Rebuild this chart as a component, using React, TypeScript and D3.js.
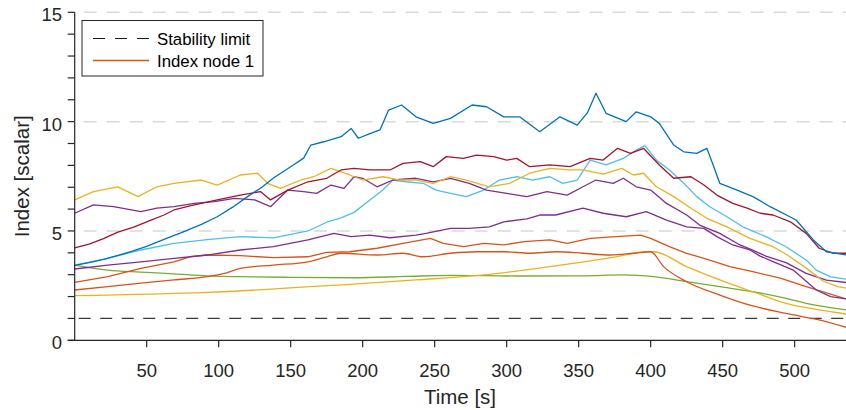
import React from "react";
import * as d3 from "d3";

// ---- data (time [s], index) ----
const blueSeries: [number, number][] = [[0,3.43],[10,3.55],[20,3.7],[30,3.88],[40,4.08],[50,4.3],[62,4.62],[75,4.95],[88,5.3],[99,5.65],[110,6.1],[120,6.57],[130,7.0],[138,7.42],[150,7.94],[159,8.33],[164,8.93],[173,9.08],[185,9.31],[192,9.69],[197,9.24],[205,9.45],[212,9.62],[218,10.53],[227,10.76],[237,10.22],[249,9.92],[261,10.15],[276,10.76],[286,10.68],[298,10.22],[309,10.22],[323,9.54],[337,10.22],[349,9.84],[356,10.4],[362,11.3],[369,10.38],[383,10.0],[390,10.45],[400,10.22],[406,9.92],[416,8.93],[423,8.62],[432,8.55],[439,8.78],[443,8.09],[448,7.18],[460,6.87],[471,6.57],[483,6.11],[501,5.5],[513,4.59],[522,4.05],[536,3.9]];
const darkRedSeries: [number, number][] = [[0,4.23],[10,4.4],[20,4.65],[30,4.95],[41,5.18],[53,5.5],[62,5.73],[69,5.96],[80,6.15],[88,6.26],[99,6.42],[115,6.64],[129,6.8],[136,6.42],[148,6.87],[162,7.25],[175,7.41],[185,7.79],[194,7.86],[205,7.79],[219,7.79],[228,8.09],[240,8.17],[249,7.94],[258,8.4],[270,8.32],[279,8.47],[291,8.4],[300,8.24],[307,8.32],[316,7.94],[330,8.02],[344,7.94],[358,8.32],[367,8.24],[377,8.78],[386,8.55],[395,8.78],[406,8.02],[416,7.41],[428,7.48],[437,7.1],[446,6.64],[457,6.26],[467,6.04],[476,5.81],[485,5.73],[497,5.42],[508,4.89],[517,4.21],[527,3.98],[536,3.98]];
const yellowSeries: [number, number][] = [[0,6.42],[13,6.8],[30,7.02],[44,6.57],[57,7.02],[69,7.18],[88,7.33],[99,7.1],[115,7.56],[127,7.64],[134,7.18],[143,6.95],[157,7.33],[166,7.48],[178,7.86],[191,7.56],[200,7.33],[214,7.48],[226,7.33],[237,7.33],[249,7.18],[261,7.48],[272,7.33],[288,7.02],[302,7.18],[316,7.64],[330,7.86],[344,7.79],[353,7.79],[367,7.6],[380,7.86],[388,7.56],[395,7.64],[404,7.02],[416,6.57],[428,6.04],[439,5.58],[453,5.19],[469,4.66],[485,4.28],[495,3.9],[508,3.3],[520,2.7],[530,2.45],[536,2.38]];
const purpleHighSeries: [number, number][] = [[0,5.81],[13,6.19],[27,6.11],[46,5.88],[57,6.04],[69,6.11],[83,6.26],[97,6.34],[111,6.49],[125,6.42],[136,6.11],[148,6.87],[159,6.8],[168,6.72],[178,7.1],[187,6.95],[194,7.48],[200,7.41],[210,7.02],[221,7.33],[237,7.41],[249,7.25],[261,7.41],[274,7.18],[286,6.87],[300,6.72],[314,6.57],[328,6.8],[342,6.64],[353,7.02],[362,7.33],[374,7.18],[381,7.41],[390,7.02],[400,6.87],[411,6.26],[425,5.73],[434,5.27],[448,4.89],[462,4.36],[470,4.15],[480,3.85],[494,3.55],[508,3.06],[522,2.75],[536,2.64]];
const lightBlueSeries: [number, number][] = [[0,3.44],[23,3.75],[46,4.13],[69,4.43],[92,4.6],[115,4.74],[138,4.68],[162,5.0],[175,5.4],[185,5.6],[194,5.85],[205,6.42],[214,6.87],[221,7.33],[230,7.25],[242,7.18],[251,6.87],[261,6.72],[272,6.57],[284,6.87],[295,7.33],[307,7.48],[318,7.33],[330,7.48],[339,7.18],[349,7.33],[358,8.24],[369,8.02],[381,8.32],[390,8.7],[396,8.9],[404,8.24],[413,7.79],[423,7.18],[432,6.57],[441,6.11],[453,5.65],[464,5.19],[480,4.74],[494,4.28],[508,3.67],[515,3.21],[525,2.9],[536,2.79]];
const purpleMidSeries: [number, number][] = [[0,3.26],[23,3.44],[46,3.59],[69,3.75],[92,3.9],[115,4.13],[138,4.28],[162,4.59],[180,4.89],[192,4.74],[205,4.81],[219,4.69],[237,4.81],[244,4.89],[261,5.12],[274,5.12],[288,5.19],[298,5.42],[314,5.55],[323,5.73],[334,5.73],[353,6.04],[367,5.81],[383,5.65],[397,5.88],[411,5.5],[425,5.19],[437,5.12],[446,4.74],[457,4.36],[469,4.13],[476,3.85],[485,3.6],[499,3.21],[515,2.3],[525,2.0],[536,1.89]];
const orangeUpperSeries: [number, number][] = [[0,2.65],[23,2.91],[46,3.29],[69,3.59],[80,3.82],[92,3.9],[115,3.87],[138,3.78],[162,3.82],[175,4.02],[191,4.05],[210,4.21],[228,4.43],[247,4.66],[256,4.43],[270,4.28],[284,4.43],[298,4.36],[312,4.51],[330,4.59],[342,4.43],[358,4.66],[376,4.74],[393,4.81],[400,4.66],[413,4.28],[425,3.98],[441,3.67],[455,3.37],[471,3.14],[490,2.84],[508,2.45],[536,1.89]];
const orangeNode1Series: [number, number][] = [[0,2.3],[23,2.45],[46,2.61],[69,2.76],[92,2.91],[104,3.06],[115,3.29],[138,3.44],[162,3.59],[175,3.82],[185,3.98],[210,3.9],[228,3.98],[242,3.82],[261,3.98],[279,4.05],[298,4.05],[316,3.98],[335,4.05],[353,3.98],[372,3.9],[388,3.98],[400,4.05],[409,3.37],[425,2.68],[448,2.07],[471,1.57],[494,1.23],[517,0.93],[536,0.59]];
const greenSeries: [number, number][] = [[0,3.44],[23,3.21],[46,3.12],[69,3.04],[92,2.95],[115,2.91],[150,2.88],[194,2.86],[230,2.92],[261,2.97],[307,2.94],[353,2.95],[381,2.99],[402,2.91],[425,2.68],[448,2.45],[471,2.22],[494,1.92],[508,1.69],[536,1.39]];
const yellowSmoothSeries: [number, number][] = [[0,2.04],[92,2.19],[191,2.56],[237,2.76],[284,2.99],[330,3.37],[376,3.82],[397,4.05],[402,4.05],[425,3.37],[448,2.76],[471,2.22],[494,1.69],[517,1.39],[536,1.2]];

const stabilityLimit = 1;
const xTicks = [50, 100, 150, 200, 250, 300, 350, 400, 450, 500];
const yTicksMinor = d3.range(0, 16);
const yTickLabels = [0, 5, 10, 15];
const legendLabels = ["Stability limit", "Index node 1"];

const series = [
  { data: greenSeries, color: "#77AC30", smooth: true },
  { data: yellowSmoothSeries, color: "#EDB120", smooth: true },
  { data: orangeNode1Series, color: "#D95319", smooth: true },
  { data: orangeUpperSeries, color: "#D95319", smooth: false },
  { data: purpleMidSeries, color: "#7E2F8E", smooth: false },
  { data: lightBlueSeries, color: "#4DBEEE", smooth: false },
  { data: purpleHighSeries, color: "#7E2F8E", smooth: false },
  { data: yellowSeries, color: "#EDB120", smooth: false },
  { data: darkRedSeries, color: "#A2142F", smooth: false },
  { data: blueSeries, color: "#0072BD", smooth: false },
];

const W = 846;
const H = 410;
const FONT = "'Liberation Sans', Arial, Helvetica, sans-serif";

export default function App() {
  const x = d3.scaleLinear().domain([0, 536]).range([74.7, 846.5]);
  const y = d3.scaleLinear().domain([0, 15]).range([340.3, 12.3]);
  const lineLin = d3.line<[number, number]>().x(d => x(d[0])).y(d => y(d[1])).curve(d3.curveLinear);
  const lineSmooth = d3.line<[number, number]>().x(d => x(d[0])).y(d => y(d[1])).curve(d3.curveMonotoneX);
  const axisColor = "#262626";
  const x0 = x(0);
  const y0 = y(0);

  return (
    <svg width={W} height={H} style={{ position: "absolute", left: 0, top: 0, background: "#fff" }} fontFamily={FONT}>
      <rect x={0} y={0} width={W} height={H} fill="#fff" />
      {/* grid */}
      {[5, 10, 15].map(v => (
        <line key={"g" + v} x1={x0} x2={x(536)} y1={y(v)} y2={y(v)} stroke="#d9d9d9" strokeWidth={1.5} strokeDasharray="13 10" strokeDashoffset={-9} />
      ))}
      {/* stability limit */}
      <line x1={x0} x2={x(536)} y1={y(stabilityLimit)} y2={y(stabilityLimit)} stroke="#3a3a3a" strokeWidth={1.2} strokeDasharray="12 9.5" strokeDashoffset={-4} />
      {/* series */}
      {series.map((s, i) => (
        <path key={i} d={(s.smooth ? lineSmooth : lineLin)(s.data) || ""} fill="none" stroke={s.color} strokeWidth={1.3} strokeLinejoin="round" />
      ))}
      {/* axes */}
      <line x1={x0} x2={x0} y1={y(15)} y2={y0} stroke={axisColor} strokeWidth={1.2} />
      <line x1={x0 - 7} x2={W} y1={y0} y2={y0} stroke={axisColor} strokeWidth={1.2} />
      {yTicksMinor.map(v => (
        <line key={"yt" + v} x1={x0 - 7} x2={x0} y1={y(v)} y2={y(v)} stroke={axisColor} strokeWidth={1.2} />
      ))}
      {yTickLabels.map(v => (
        <text key={"yl" + v} x={62} y={y(v) + 9} textAnchor="end" fontSize={18.5} fill={axisColor}>{v}</text>
      ))}
      {xTicks.map(v => (
        <g key={"xt" + v}>
          <line x1={x(v)} x2={x(v)} y1={y0} y2={y0 + 7} stroke={axisColor} strokeWidth={1.2} />
          <text x={x(v)} y={377} textAnchor="middle" fontSize={18.5} fill={axisColor}>{v}</text>
        </g>
      ))}
      <text x={460} y={403.5} textAnchor="middle" fontSize={20.5} fill={axisColor}>Time [s]</text>
      <text transform={`translate(29, ${(y(15) + y0) / 2}) rotate(-90)`} textAnchor="middle" fontSize={20.5} fill={axisColor}>Index [scalar]</text>
      {/* legend */}
      <rect x={82} y={20.5} width={181} height={55.5} fill="#fff" stroke={axisColor} strokeWidth={1} />
      <line x1={93} x2={149} y1={38.5} y2={38.5} stroke="#1a1a1a" strokeWidth={1.2} strokeDasharray="12 10" />
      <text x={157} y={44.5} fontSize={16.8} fill="#000">{legendLabels[0]}</text>
      <line x1={93} x2={149} y1={60.5} y2={60.5} stroke="#D95319" strokeWidth={1.3} />
      <text x={157} y={66.5} fontSize={16.8} fill="#000">{legendLabels[1]}</text>
    </svg>
  );
}
